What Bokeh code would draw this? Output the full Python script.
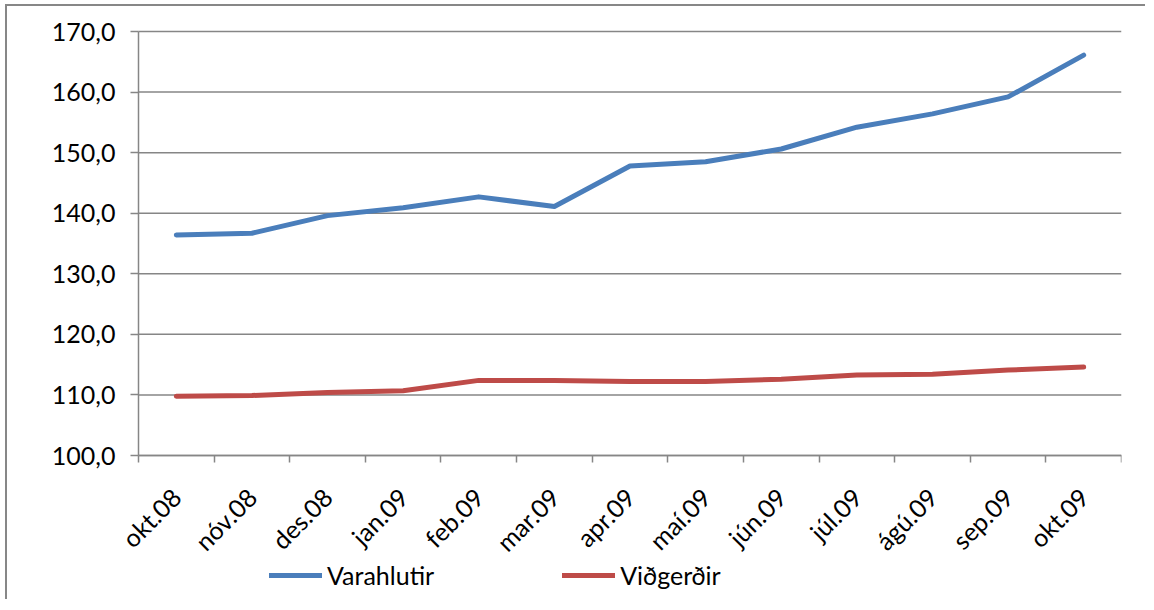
import math
from bokeh.plotting import figure
from bokeh.models import Range1d, FixedTicker, Legend, LegendItem, ColumnDataSource
from bokeh.embed import file_html
from bokeh.resources import INLINE

months = ["okt.08", "nóv.08", "des.08", "jan.09", "feb.09", "mar.09", "apr.09",
          "maí.09", "jún.09", "júl.09", "ágú.09", "sep.09", "okt.09"]
varahlutir = [136.4, 136.7, 139.6, 140.9, 142.7, 141.1, 147.8, 148.5, 150.6,
              154.2, 156.4, 159.2, 166.1]
vidgerdir = [109.8, 109.9, 110.4, 110.7, 112.4, 112.4, 112.2, 112.2, 112.6,
             113.3, 113.4, 114.1, 114.6]
y_ticks = [100, 110, 120, 130, 140, 150, 160, 170]
y_tick_labels = ["100,0", "110,0", "120,0", "130,0", "140,0", "150,0", "160,0", "170,0"]

FONT = "Lato"
FS = "25px"
GRID = "#868686"
BLUE = "#4A7EBB"
RED = "#BE4B48"

# layout (pixels): the frame covers almost the whole canvas; the plotting
# area (categories x values 100-170) sits inside it so that tick labels and
# the legend are not clipped.
W, H = 1140, 595
FRAME_TOP, AREA_TOP, RIGHT_PX = 5, 25, 26
LEFT_PX, AREA_H = 131, 424
n = len(months)
px_per_cat = (W - RIGHT_PX - LEFT_PX) / n
x_lo = -LEFT_PX / px_per_cat
units_per_px = (y_ticks[-1] - y_ticks[0]) / AREA_H
y_hi = y_ticks[-1] + (AREA_TOP - FRAME_TOP) * units_per_px
y_lo = y_ticks[-1] - (H - AREA_TOP) * units_per_px

x_pos = [i + 0.5 for i in range(n)]
source = ColumnDataSource(dict(x=x_pos, v=varahlutir, r=vidgerdir))
grid_src = ColumnDataSource(dict(x0=[0] * len(y_ticks), x1=[n] * len(y_ticks),
                                 y=y_ticks))

p = figure(width=W, height=H, output_backend="svg", toolbar_location=None,
           x_range=Range1d(x_lo, n), y_range=Range1d(y_lo, y_hi),
           min_border_left=0, min_border_right=RIGHT_PX, min_border_top=FRAME_TOP,
           min_border_bottom=0)
p.styles = {"border-top": "2px solid #878787", "border-left": "2px solid #878787",
            "margin-left": "5px", "margin-top": "4px"}
p.outline_line_color = None
p.background_fill_color = "white"
p.border_fill_color = "white"
p.xgrid.grid_line_color = None
p.ygrid.grid_line_color = None

# horizontal gridlines over the category area only
p.segment(x0="x0", x1="x1", y0="y", y1="y", source=grid_src,
          line_color=GRID, line_width=1.5)

r1 = p.line("x", "v", source=source, line_color=BLUE, line_width=5,
            line_join="round", line_cap="round")
r2 = p.line("x", "r", source=source, line_color=RED, line_width=5,
            line_join="round", line_cap="round")

# y axis at the left edge of the category area
p.yaxis.fixed_location = 0
p.yaxis.ticker = FixedTicker(ticks=y_ticks)
p.yaxis.bounds = (y_ticks[0], y_ticks[-1])
p.yaxis.major_label_overrides = {t: l for t, l in zip(y_ticks, y_tick_labels)}
p.yaxis.axis_line_color = GRID
p.yaxis.axis_line_width = 1.5
p.yaxis.major_tick_line_color = GRID
p.yaxis.major_tick_line_width = 1.5
p.yaxis.major_tick_out = 8
p.yaxis.major_tick_in = 0
p.yaxis.minor_tick_line_color = None
p.yaxis.major_label_text_font = FONT
p.yaxis.major_label_text_font_size = FS
p.yaxis.major_label_text_color = "black"
p.yaxis.major_label_standoff = 15

# x axis, drawn at value 100
p.xaxis.fixed_location = y_ticks[0]
p.xaxis.bounds = (0, n)
p.xaxis.ticker = FixedTicker(ticks=x_pos, minor_ticks=list(range(n + 1)))
p.xaxis.major_label_overrides = {x: m for x, m in zip(x_pos, months)}
p.xaxis.major_label_orientation = math.pi / 4
p.xaxis.axis_line_color = GRID
p.xaxis.axis_line_width = 1.5
p.xaxis.major_tick_line_color = None
p.xaxis.major_tick_out = 0
p.xaxis.major_tick_in = 0
p.xaxis.minor_tick_line_color = GRID
p.xaxis.minor_tick_line_width = 1.5
p.xaxis.minor_tick_out = 7
p.xaxis.minor_tick_in = 0
p.xaxis.major_label_text_font = FONT
p.xaxis.major_label_text_font_size = FS
p.xaxis.major_label_text_color = "black"
p.xaxis.major_label_standoff = 30

legend = Legend(items=[LegendItem(label="Varahlutir", renderers=[r1]),
                       LegendItem(label="Viðgerðir", renderers=[r2])],
                orientation="horizontal", location=(LEFT_PX + 131, 11),
                glyph_width=53, glyph_height=20, label_standoff=5, spacing=128,
                padding=0, margin=0, border_line_color=None,
                background_fill_alpha=0,
                label_text_font=FONT, label_text_font_size=FS,
                label_text_color="black")
p.add_layout(legend)

open("out.html", "w").write(file_html(p, INLINE))
